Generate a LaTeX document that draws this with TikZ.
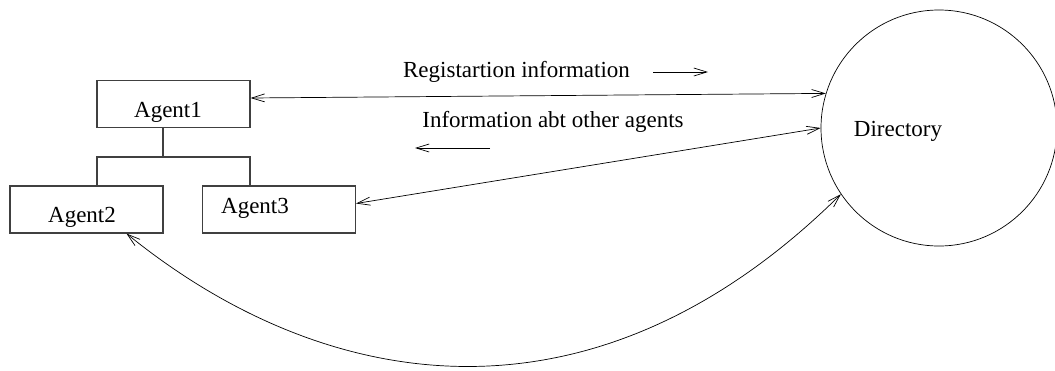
\documentclass[tikz,border=0pt]{standalone}
\usepackage{fontspec}
\setmainfont{Liberation Serif}
\usetikzlibrary{arrows.meta}
\begin{document}
\begin{tikzpicture}[x=1pt,y=-1pt,
  agentbox/.style={draw=black!75,line width=1.1pt,minimum width=153pt,minimum height=47pt,inner sep=0pt},
  lbl/.style={font=\fontsize{23}{27}\selectfont,inner sep=0pt},
  tree/.style={draw=black!75,line width=1.1pt},
  flow/.style={line width=0.7pt,{Straight Barb[length=13pt,width=8pt]}-{Straight Barb[length=13pt,width=8pt]}},
  hint/.style={line width=0.7pt,-{Straight Barb[length=13pt,width=8pt]}}]
\useasboundingbox (0,0) rectangle (1055,370);

% agents
\node[agentbox] (a1box) at (173.5,104) {};
\node[agentbox] (a2box) at (86.5,209.5) {};
\node[agentbox] (a3box) at (279,209.5) {};
\node[lbl] (a1) at (168,112) {Agent1};
\node[lbl] (a2) at (82,217) {Agent2};
\node[lbl] (a3) at (255,208) {Agent3};

% hierarchy
\coordinate (fork) at (163,157);
\coordinate (tl) at (97,157);
\coordinate (tr) at (250,157);
\path[tree] (fork |- a1box.south) -- (fork);
\path[tree] (tl |- a2box.north) -- (tl) -- (tr) -- (tr |- a3box.north);

% directory
\node[draw,circle,line width=0.7pt,minimum size=236pt,inner sep=0pt] (dir) at (939,128) {};
\node[lbl] (dirl) at (898,131) {Directory};

% exchanges
\draw[flow] ([yshift=6pt]a1box.east) -- (dir.163);
\draw[flow] ([yshift=6pt]a3box.east) -- (dir.180);
\draw[flow] ([xshift=40pt]a2box.south) .. controls (323,393) and (591,441) .. (dir.214);

% labels with direction hints
\node[lbl] (reg) at (516.5,72) {Registartion information};
\coordinate (rs) at (653,72);
\coordinate (re) at (708,72);
\draw[hint] (rs) -- (re);
\node[lbl] (oth) at (553,122) {Information abt other agents};
\coordinate (os) at (490,148);
\coordinate (oe) at (415,148);
\draw[hint] (os) -- (oe);
\end{tikzpicture}
\end{document}
